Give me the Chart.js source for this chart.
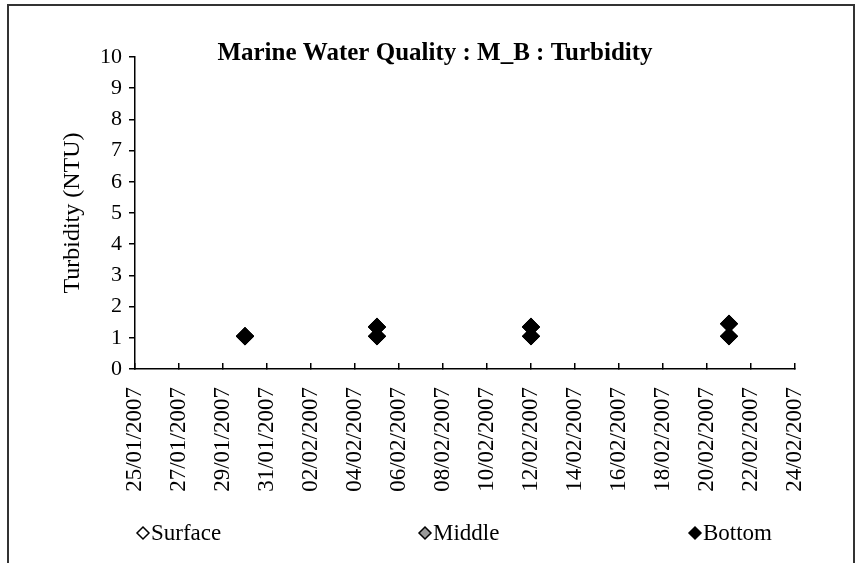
<!DOCTYPE html>
<html>
<head>
<meta charset="utf-8">
<script src="https://cdn.jsdelivr.net/npm/chart.js@4.4.0/dist/chart.umd.min.js"></script>
<style>
  body { margin: 0; background: #fff; }
  #wrap { position: relative; width: 855px; height: 563px; overflow: hidden; }
  #frame { position: absolute; left: 7px; top: 4px; width: 844px; height: 600px;
           border: 2px solid #333; border-bottom: none; pointer-events: none; }
</style>
</head>
<body>
<div id="wrap">
  <canvas id="myChart" width="855" height="563"></canvas>
  <div id="frame"></div>
</div>
<script>
// Datos del gráfico (dos muestras por día: marea baja / marea alta)
const startDate = new Date(2007, 0, 25);
const sampleDates = ['30/01/2007', '30/01/2007', '05/02/2007', '05/02/2007',
                     '12/02/2007', '12/02/2007', '21/02/2007', '21/02/2007'];
const surface = [1.05, 1.05, 1.05, 1.35, 1.05, 1.35, 1.05, 1.45];
const middle = [1.05, 1.05, 1.05, 1.35, 1.05, 1.35, 1.05, 1.45];
const bottom = [1.05, 1.05, 1.05, 1.35, 1.05, 1.35, 1.05, 1.45];
const yTicks = [0, 1, 2, 3, 4, 5, 6, 7, 8, 9, 10];

const serif = "'Liberation Serif', 'Times New Roman', serif";

// Días desde el 25/01/2007
function dayOffset(str) {
    let p = str.split('/');
    let d = new Date(+p[2], +p[1] - 1, +p[0]);
    return Math.round((d - startDate) / 86400000);
}

function fmt(v) {
    let d = new Date(2007, 0, 25 + v);
    let dd = String(d.getDate()).padStart(2, '0');
    let mm = String(d.getMonth() + 1).padStart(2, '0');
    return dd + '/' + mm + '/' + d.getFullYear();
}

function points(values) {
    return sampleDates.map((s, i) => ({ x: dayOffset(s), y: values[i] }));
}

function serie(label, values, fill, order) {
    return {
        label: label,
        data: points(values),
        showLine: false,
        pointStyle: 'rectRot',
        pointRadius: 8,
        pointHoverRadius: 8,
        pointBackgroundColor: fill,
        pointBorderColor: '#000',
        pointBorderWidth: 1.5,
        backgroundColor: fill,
        borderColor: '#000',
        order: order
    };
}

// Leyenda abajo, repartida como en el original
const legendPlugin = {
    id: 'spreadLegend',
    afterDraw(chart) {
        const c = chart.ctx;
        const xs = [143, 425, 695];
        const y = 533;
        c.save();
        c.font = '23px ' + serif;
        c.textBaseline = 'middle';
        chart.data.datasets.forEach((ds, i) => {
            let r = 6;
            c.beginPath();
            c.moveTo(xs[i], y - r);
            c.lineTo(xs[i] + r, y);
            c.lineTo(xs[i], y + r);
            c.lineTo(xs[i] - r, y);
            c.closePath();
            c.fillStyle = ds.pointBackgroundColor;
            c.fill();
            c.lineWidth = 1.5;
            c.strokeStyle = '#000';
            c.stroke();
            c.fillStyle = '#000';
            c.fillText(ds.label, xs[i] + 8, y + 1);
        });
        c.restore();
    }
};

var ctx = document.getElementById('myChart').getContext('2d');
var myChart = new Chart(ctx, {
    type: 'scatter',
    data: {
        datasets: [
            serie('Surface', surface, '#ffffff', 2),
            serie('Middle', middle, '#999999', 1),
            serie('Bottom', bottom, '#000000', 0)
        ]
    },
    plugins: [legendPlugin],
    options: {
        responsive: false,
        animation: false,
        layout: { padding: { left: 75, right: 60, top: 0, bottom: 0 } },
        plugins: {
            title: {
                display: true,
                text: 'Marine Water Quality : M_B : Turbidity',
                color: '#000',
                font: { family: serif, size: 25, weight: 'bold' },
                padding: { top: 39, bottom: -12 }
            },
            legend: { display: false },
            tooltip: { enabled: false }
        },
        scales: {
            x: {
                type: 'linear',
                min: 0,
                max: 30,
                afterFit: s => { s.height = 194; },
                border: { color: '#000', width: 1.5 },
                grid: { drawOnChartArea: false, color: '#000', tickLength: -6, lineWidth: 1.5 },
                ticks: {
                    stepSize: 2,
                    autoSkip: false,
                    minRotation: 90,
                    maxRotation: 90,
                    padding: 24,
                    color: '#000',
                    font: { family: serif, size: 23 },
                    callback: v => fmt(v)
                }
            },
            y: {
                min: 0,
                max: 10,
                afterFit: s => { s.width = 60; },
                border: { color: '#000', width: 1.5 },
                grid: { drawOnChartArea: false, color: '#000', tickLength: 6, lineWidth: 1.5 },
                afterBuildTicks: axis => { axis.ticks = yTicks.map(v => ({ value: v })); },
                ticks: {
                    autoSkip: false,
                    padding: 7,
                    color: '#000',
                    font: { family: serif, size: 22 }
                },
                title: {
                    display: true,
                    text: 'Turbidity (NTU)',
                    color: '#000',
                    font: { family: serif, size: 24 },
                    padding: { top: -17, bottom: 0 }
                }
            }
        }
    }
});
</script>
</body>
</html>
